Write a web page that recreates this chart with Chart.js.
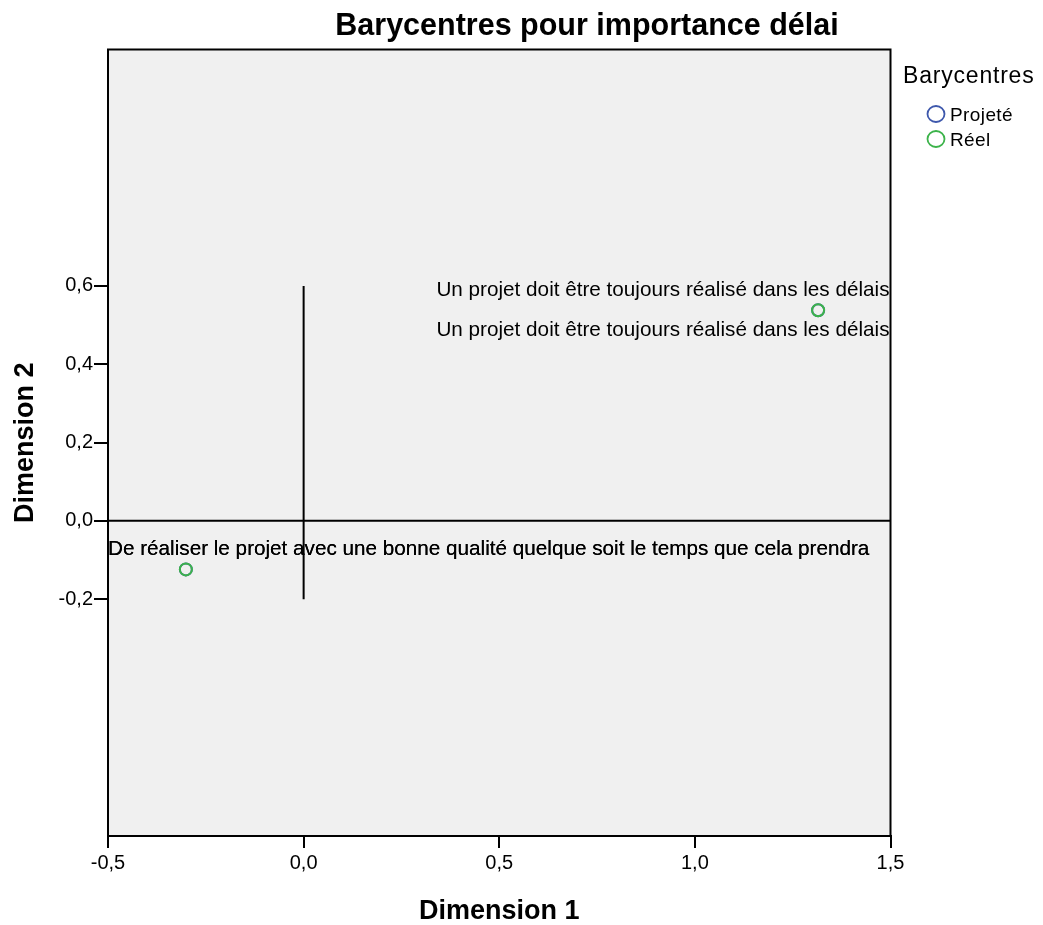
<!DOCTYPE html>
<html lang="fr">
<head>
<meta charset="utf-8">
<title>Barycentres pour importance délai</title>
<script src="https://cdn.jsdelivr.net/npm/chart.js@4/dist/chart.umd.min.js"></script>
<style>
  html, body { margin: 0; padding: 0; background: #ffffff; }
  #chart { display: block; }
</style>
</head>
<body>
<canvas id="chart" width="1043" height="925"></canvas>
<script>
// Modalités de la variable "importance délai"
const categories = [
  'De réaliser le projet avec une bonne qualité quelque soit le temps que cela prendra',
  'Un projet doit être toujours réalisé dans les délais'
];

// Barycentres projetés (dimension 1, dimension 2)
const projeteDim1 = [-0.301, 1.315];
const projeteDim2 = [-0.124, 0.538];

// Barycentres réels (dimension 1, dimension 2)
const reelDim1 = [-0.301, 1.315];
const reelDim2 = [-0.124, 0.538];

// Graduations des axes
const xTicks = [-0.5, 0.0, 0.5, 1.0, 1.5];
const yTicks = [-0.2, 0.0, 0.2, 0.4, 0.6];

// Lignes de référence (origine)
const refHorizX = [-0.5, 1.5];
const refHorizY = [0, 0];
const refVertX = [0, 0];
const refVertY = [-0.2, 0.6];

const FONT = '"Liberation Sans", Arial, Helvetica, sans-serif';
const BLUE = '#3e58ac';
const GREEN = '#3cb34a';

const toPoints = (xs, ys) => xs.map((x, i) => ({ x: x, y: ys[i] }));
const fmt = v => Number(v).toFixed(1).replace('.', ',');

// Fond gris de la zone de tracé, cadre, titre et légende
const framePlugin = {
  id: 'frame',
  beforeDraw(chart) {
    const { ctx, chartArea: a } = chart;
    ctx.save();
    ctx.fillStyle = '#ffffff';
    ctx.fillRect(0, 0, chart.width, chart.height);
    ctx.fillStyle = '#f0f0f0';
    ctx.fillRect(a.left, a.top, a.right - a.left, a.bottom - a.top);
    ctx.restore();
  },
  afterDraw(chart) {
    const { ctx, chartArea: a } = chart;
    ctx.save();
    // cadre
    ctx.strokeStyle = '#000000';
    ctx.lineWidth = 2;
    ctx.strokeRect(a.left, a.top, a.right - a.left, a.bottom - a.top);

    // titre
    ctx.fillStyle = '#000000';
    ctx.font = 'bold 30.5px ' + FONT;
    ctx.letterSpacing = '0px';
    ctx.textAlign = 'center';
    ctx.textBaseline = 'alphabetic';
    ctx.fillText('Barycentres pour importance délai', 587, 35);

    // légende
    ctx.textAlign = 'left';
    ctx.font = '23px ' + FONT;
    ctx.letterSpacing = '0.8px';
    ctx.fillText('Barycentres', 903, 83);
    ctx.font = '19px ' + FONT;
    ctx.letterSpacing = '0.4px';
    let y = 114;
    chart.data.datasets.forEach(ds => {
      if (!ds.inLegend) return;
      ctx.beginPath();
      ctx.ellipse(936, y, 8.5, 8, 0, 0, Math.PI * 2);
      ctx.strokeStyle = ds.borderColor;
      ctx.lineWidth = 1.8;
      ctx.stroke();
      ctx.fillStyle = '#000000';
      ctx.textBaseline = 'middle';
      ctx.fillText(ds.label, 950, y + 2);
      y += 25;
    });
    ctx.restore();
  }
};

// Étiquettes des modalités à côté des barycentres, maintenues dans la zone de tracé
const labelPlugin = {
  id: 'pointLabels',
  afterDatasetsDraw(chart) {
    const { ctx, chartArea: a } = chart;
    ctx.save();
    ctx.font = '20.7px ' + FONT;
    ctx.letterSpacing = '0px';
    ctx.fillStyle = '#000000';
    ctx.textBaseline = 'middle';
    ctx.textAlign = 'left';
    chart.data.datasets.forEach((ds, di) => {
      if (!ds.labelSide) return;
      const meta = chart.getDatasetMeta(di);
      meta.data.forEach((pt, i) => {
        const text = categories[i];
        const w = ctx.measureText(text).width;
        let left = pt.x - w / 2;
        if (left + w > a.right - 1) left = a.right - 1 - w;
        if (left < a.left) left = a.left;
        const dy = ds.labelSide[i] === 'above' ? -20 : 20;
        ctx.fillText(text, left, pt.y + dy);
      });
    });
    ctx.restore();
  }
};

const refLine = (xs, ys) => ({
  label: '',
  data: toPoints(xs, ys),
  showLine: true,
  borderColor: '#000000',
  borderWidth: 2,
  pointRadius: 0,
  fill: false,
  order: 3,
  inLegend: false
});

new Chart(document.getElementById('chart'), {
  type: 'scatter',
  data: {
    datasets: [
      refLine(refHorizX, refHorizY),
      refLine(refVertX, refVertY),
      {
        label: 'Projeté',
        data: toPoints(projeteDim1, projeteDim2),
        borderColor: BLUE,
        backgroundColor: 'rgba(0,0,0,0)',
        borderWidth: 2,
        pointRadius: 6,
        order: 2,
        inLegend: true,
        labelSide: ['above', 'above']
      },
      {
        label: 'Réel',
        data: toPoints(reelDim1, reelDim2),
        borderColor: GREEN,
        backgroundColor: 'rgba(0,0,0,0)',
        borderWidth: 2,
        pointRadius: 6,
        order: 1,
        inLegend: true,
        labelSide: ['above', 'below']
      }
    ]
  },
  options: {
    responsive: false,
    devicePixelRatio: 1,
    animation: false,
    layout: { padding: { left: 0, top: 49.5, right: 152.5, bottom: 0 } },
    plugins: {
      legend: { display: false },
      title: { display: false },
      tooltip: { enabled: false }
    },
    scales: {
      x: {
        type: 'linear',
        min: -0.5,
        max: 1.5,
        afterBuildTicks: s => { s.ticks = xTicks.map(v => ({ value: v })); },
        afterFit: s => { s.height = 89; },
        grid: { display: true, drawOnChartArea: false, drawTicks: true, tickLength: 12, color: '#000000', lineWidth: 2 },
        border: { display: true, color: '#000000', width: 2 },
        ticks: { color: '#000000', font: { family: FONT, size: 20 }, padding: 3, maxRotation: 0, autoSkip: false, callback: v => fmt(v) },
        title: { display: true, text: 'Dimension 1', color: '#000000', font: { family: FONT, size: 27, weight: 'bold', lineHeight: 1.0 }, padding: { top: 0, bottom: 0 } }
      },
      y: {
        type: 'linear',
        min: -0.805,
        max: 1.204,
        afterBuildTicks: s => { s.ticks = yTicks.map(v => ({ value: v })); },
        afterFit: s => { s.width = 108; },
        grid: { display: true, drawOnChartArea: false, drawTicks: true, tickLength: 14, color: '#000000', lineWidth: 2 },
        border: { display: true, color: '#000000', width: 2 },
        ticks: { color: '#000000', font: { family: FONT, size: 20 }, padding: 1, autoSkip: false, callback: v => fmt(v) },
        title: { display: true, text: 'Dimension 2', color: '#000000', font: { family: FONT, size: 27, weight: 'bold' }, padding: { top: 9, bottom: 0 } }
      }
    }
  },
  plugins: [framePlugin, labelPlugin]
});
</script>
</body>
</html>
